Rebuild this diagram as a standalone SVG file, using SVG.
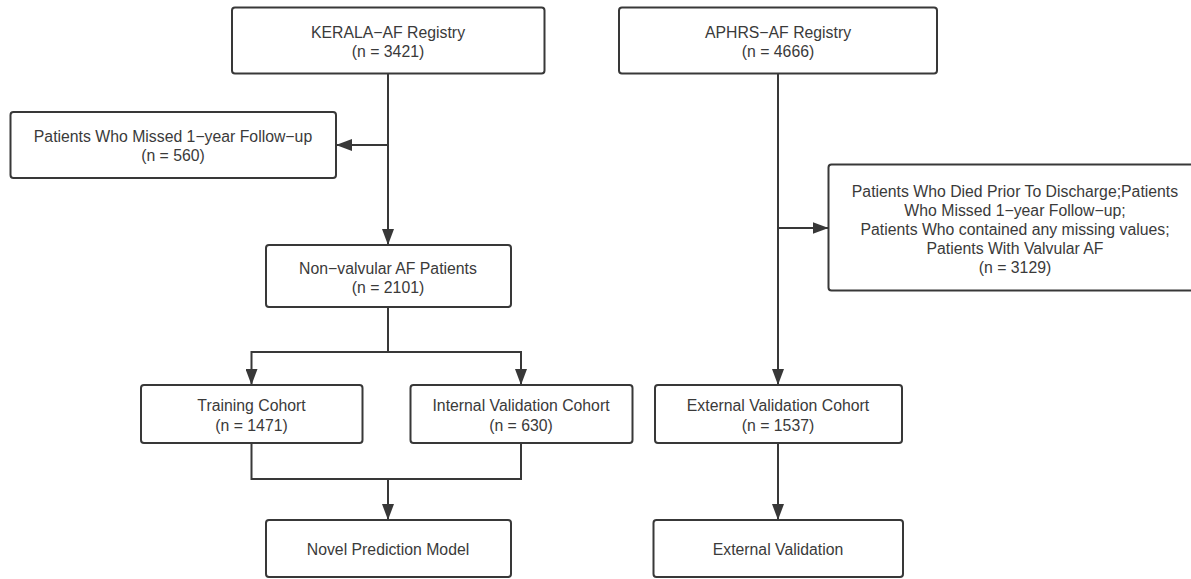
<svg xmlns="http://www.w3.org/2000/svg" width="1191" height="579" viewBox="0 0 1191 579">
<defs>
<marker id="arr" markerWidth="16" markerHeight="12" refX="16" refY="6" orient="auto" markerUnits="userSpaceOnUse">
<path d="M0,0 L16,6 L0,12 Z" fill="#383838"/>
</marker>
<style>
.box{fill:#fff;stroke:#383838;stroke-width:2}
.t{font-family:"Liberation Sans",Arial,sans-serif;font-size:15.8px;fill:#3a3a3a;text-anchor:middle;dominant-baseline:central}
.c{fill:none;stroke:#383838;stroke-width:2}
</style>
</defs>
<rect width="1191" height="579" fill="#fff"/>
<g id="connectors">
<path class="c" d="M388,73 V245" marker-end="url(#arr)"/>
<path class="c" d="M388,145 H336" marker-end="url(#arr)"/>
<path class="c" d="M388,307 V352 H251.5 V385" marker-end="url(#arr)"/>
<path class="c" d="M388,352 H521 V385" marker-end="url(#arr)"/>
<path class="c" d="M251.5,443 V479 H521 V443"/>
<path class="c" d="M388,479 V520" marker-end="url(#arr)"/>
<path class="c" d="M778,73 V385" marker-end="url(#arr)"/>
<path class="c" d="M778,228 H828.5" marker-end="url(#arr)"/>
<path class="c" d="M778,443 V520" marker-end="url(#arr)"/>
</g>
<g id="kerala">
<rect class="box" x="232" y="7.5" width="312.5" height="66" rx="3"/>
<text class="t" x="388" y="32">KERALA−AF Registry</text>
<text class="t" x="388" y="51.5">(n = 3421)</text>
</g>
<g id="missed">
<rect class="box" x="10.5" y="112" width="325.5" height="66" rx="3"/>
<text class="t" x="173" y="136.5">Patients Who Missed 1−year Follow−up</text>
<text class="t" x="173" y="155.5">(n = 560)</text>
</g>
<g id="nonvalvular">
<rect class="box" x="266" y="245" width="245" height="62" rx="3"/>
<text class="t" x="388" y="268">Non−valvular AF Patients</text>
<text class="t" x="388" y="287">(n = 2101)</text>
</g>
<g id="training">
<rect class="box" x="141" y="385" width="221.5" height="58" rx="3"/>
<text class="t" x="251.5" y="405.5">Training Cohort</text>
<text class="t" x="251.5" y="425">(n = 1471)</text>
</g>
<g id="internal">
<rect class="box" x="410.5" y="385" width="222" height="58" rx="3"/>
<text class="t" x="521" y="405.5">Internal Validation Cohort</text>
<text class="t" x="521" y="425">(n = 630)</text>
</g>
<g id="novel">
<rect class="box" x="266" y="520" width="245" height="57" rx="3"/>
<text class="t" x="388" y="549">Novel Prediction Model</text>
</g>
<g id="aphrs">
<rect class="box" x="619" y="7.5" width="318" height="66" rx="3"/>
<text class="t" x="778" y="32">APHRS−AF Registry</text>
<text class="t" x="778" y="51.5">(n = 4666)</text>
</g>
<g id="excluded">
<rect class="box" x="828.5" y="164.5" width="375" height="126" rx="3"/>
<text class="t" x="1015" y="191">Patients Who Died Prior To Discharge;Patients</text>
<text class="t" x="1015" y="210">Who Missed 1−year Follow−up;</text>
<text class="t" x="1015" y="229">Patients Who contained any missing values;</text>
<text class="t" x="1015" y="248">Patients With Valvular AF</text>
<text class="t" x="1015" y="267">(n = 3129)</text>
</g>
<g id="extcohort">
<rect class="box" x="655" y="385" width="247" height="58" rx="3"/>
<text class="t" x="778" y="405.5">External Validation Cohort</text>
<text class="t" x="778" y="425">(n = 1537)</text>
</g>
<g id="extval">
<rect class="box" x="653.5" y="520" width="249.5" height="57" rx="3"/>
<text class="t" x="778" y="549">External Validation</text>
</g>
</svg>
